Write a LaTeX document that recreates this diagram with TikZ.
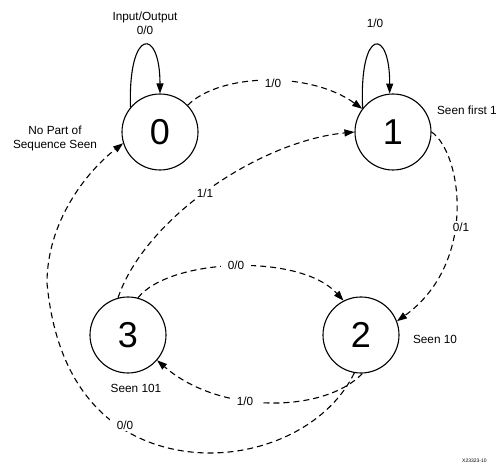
\documentclass[tikz,border=0pt]{standalone}
\usepackage{fontspec}
\setmainfont{Liberation Sans}
\usetikzlibrary{arrows.meta}
\begin{document}
\begin{tikzpicture}[x=1pt,y=1pt,
  state/.style={circle,draw,line width=1.1pt,minimum size=76pt,inner sep=0pt,font=\fontsize{36}{36}\selectfont},
  trans/.style={line width=1.1pt,dash pattern=on 6pt off 4pt,-{Triangle[length=10pt,width=7pt]}},
  loopedge/.style={line width=1.1pt,-{Triangle[length=10pt,width=7pt]}},
  lbl/.style={font=\fontsize{11.8}{14}\selectfont,inner sep=1pt,align=center},
  elbl/.style={lbl,fill=white,inner xsep=7pt,inner ysep=2pt}]
\useasboundingbox (0,0) rectangle (499,463);
% states
\node[state] (n0) at (160,331) {0};
\node[state] (n1) at (393,331) {1};
\node[state] (n2) at (361,128) {2};
\node[state] (n3) at (128,128) {3};
% self loops
\draw[loopedge] (n0.140) .. controls (128,436) and (160,436) .. (n0.north);
\draw[loopedge] (n1.142) .. controls (359,436) and (390,436) .. (n1.95);
% transitions
\draw[trans] (n0.44) .. controls (220,390) and (310,392) .. (n1.143);
\draw[trans] (n3.105) .. controls (145,245) and (260,322) .. (n1.180);
\draw[trans] (n3.75) .. controls (170,205) and (300,210) .. (n2.117);
\draw[trans] (n1.0) .. controls (462,310) and (478,200) .. (n2.21);
\draw[trans] (n2.-88) .. controls (325,50) and (220,48) .. (n3.-41);
\draw[trans] (n2.-100) .. controls (330,40) and (270,10) .. (210,10)
   .. controls (150,10) and (60,40) .. (47,180)
   .. controls (47,240) and (85,290) .. (n0.197);
% edge labels
\node[elbl] (l01) at (273,380) {1/0};
\node[elbl] (l31) at (205,270) {1/1};
\node[elbl] (l32) at (236,198) {0/0};
\node[elbl] (l12) at (461,236) {0/1};
\node[elbl] (l23) at (245,62) {1/0};
\node[elbl] (l20) at (125,38) {0/0};
% loop labels
\node[lbl] (io) at (145,440) {Input/Output\\0/0};
\node[lbl] (l11) at (375,440) {1/0};
% state descriptions
\node[lbl] (d0) at (55,325) {No Part of\\Sequence Seen};
\node[lbl,anchor=east] (d1) at (498,353) {Seen first 1};
\node[lbl] (d2) at (435,124) {Seen 10};
\node[lbl] (d3) at (136,75) {Seen 101};
\node[font=\fontsize{5}{5}\selectfont,anchor=west,inner sep=0pt] (fig) at (462,2.5) {X23323-10};
\end{tikzpicture}
\end{document}
